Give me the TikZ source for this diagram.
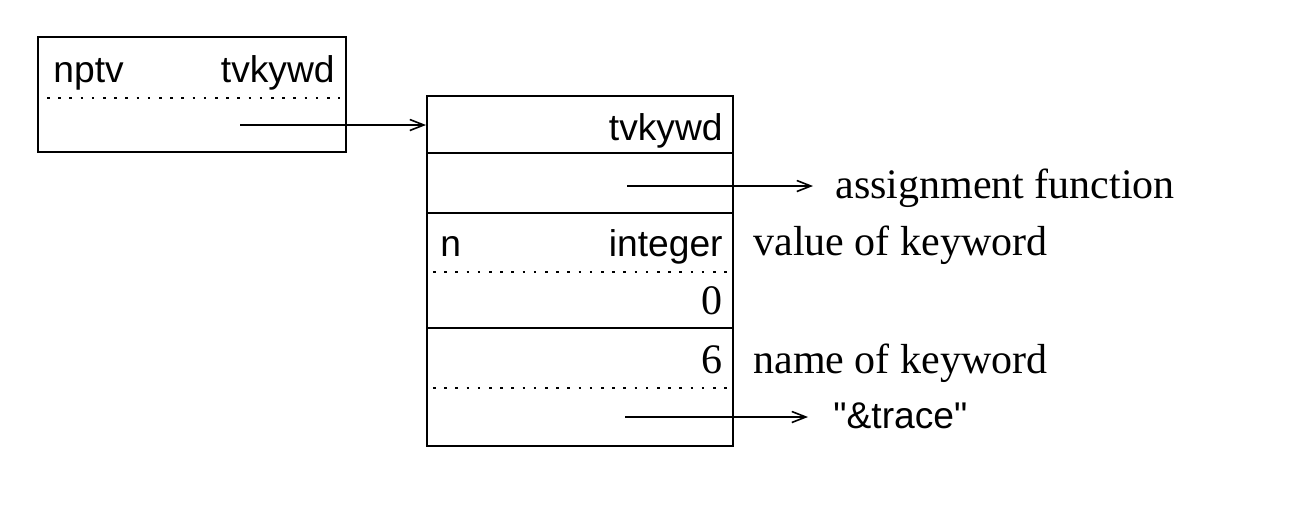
\documentclass[tikz,border=0pt]{standalone}
\usepackage{fontspec}
\setmainfont{Liberation Serif}
\setsansfont{Liberation Sans}
\usetikzlibrary{arrows.meta}
\newcommand{\plainquote}{\XeTeXglyph\XeTeXglyphindex "quotedbl"\relax}
\begin{document}
\begin{tikzpicture}[x=0.5pt,y=-0.5pt,
  cellbox/.style={draw,line width=1pt,rectangle,inner sep=0pt,minimum width=153pt},
  dotline/.style={line width=1.3pt,dash pattern=on 1.3pt off 4.3pt},
  ptr/.style={line width=0.8pt,-{Straight Barb[length=7pt,width=5.5pt]}},
  sf/.style={font=\sffamily\fontsize{18.6}{22}\selectfont,inner sep=0pt},
  rm/.style={font=\rmfamily\fontsize{21}{25}\selectfont,inner sep=0pt}]
\useasboundingbox[fill=white] (0,0) rectangle (1312,505);
% left box
\node[cellbox,minimum width=154pt,minimum height=57.5pt] (lbox) at (192,94.5) {};
\node[sf,anchor=base west] (nptv) at (53,82) {nptv};
\node[sf,anchor=base east] (ltv) at (335,82) {tvkywd};
\draw[dotline] (47,98) -- (340,98);
% main box cells
\node[cellbox,minimum height=28.5pt] (c1) at (580,124.5) {};
\node[cellbox,minimum height=30pt] (c2) at (580,183) {};
\node[cellbox,minimum height=57.5pt] (c3) at (580,270.5) {};
\node[cellbox,minimum height=59pt] (c4) at (580,387) {};
\node[sf,anchor=base east] (mtv) at (723,140) {tvkywd};
\node[sf,anchor=base west] (nn) at (440,256) {n};
\node[sf,anchor=base east] (int) at (723,256) {integer};
\draw[dotline] (433,272) -- (727,272);
\node[rm,anchor=base east] (zero) at (723,314) {0};
\node[rm,anchor=base east] (six) at (723,373) {6};
\draw[dotline] (433,388) -- (727,388);
% labels
\node[rm,anchor=base west] (val) at (753,255) {value of keyword};
\node[rm,anchor=base west] (nam) at (753,373) {name of keyword};
\node[rm,anchor=base west] (asg) at (835,198) {assignment function};
\node[sf,anchor=base west] (trc) at (833,428) {\plainquote\&trace\plainquote};
% pointers
\coordinate (p1) at (240,125);
\coordinate (p2s) at (627,186);
\coordinate (p2e) at (813,186);
\coordinate (p3s) at (625,417);
\coordinate (p3e) at (808,417);
\draw[ptr] (p1) -- (p1 -| c1.west);
\draw[ptr] (p2s) -- (p2e);
\draw[ptr] (p3s) -- (p3e);
\end{tikzpicture}
\end{document}
